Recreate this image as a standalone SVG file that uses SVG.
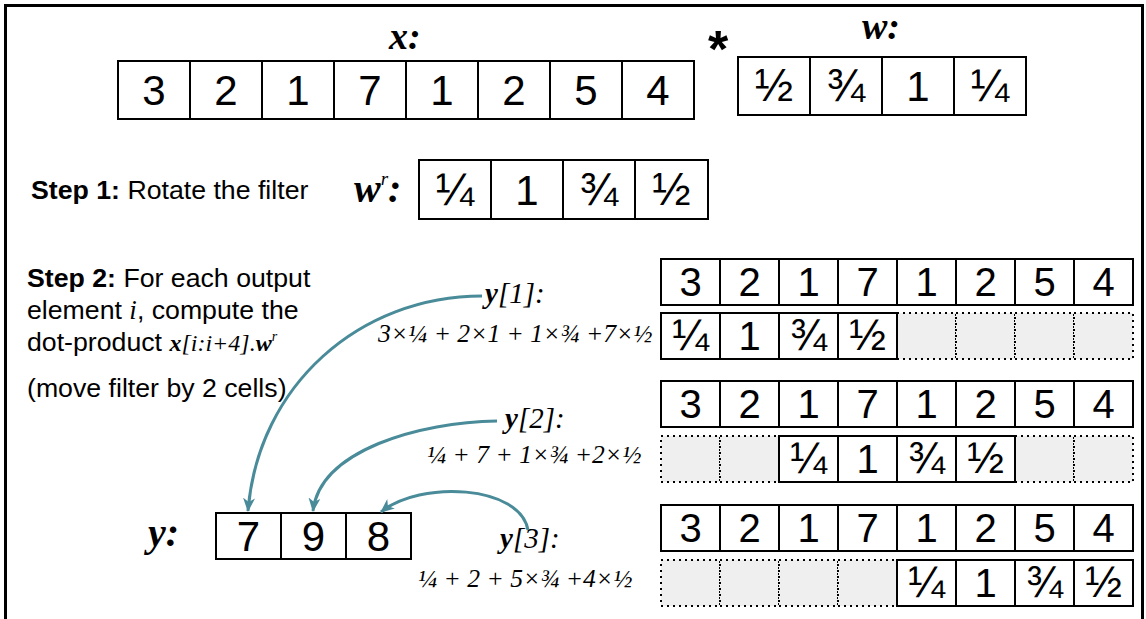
<svg xmlns="http://www.w3.org/2000/svg" width="1146" height="619" viewBox="0 0 1146 619">
<style>
.cell{fill:#fff;stroke:#000;stroke-width:2}
.dot{fill:#efefef;stroke:#000;stroke-width:2;stroke-dasharray:2 4}
.num{font-family:"Liberation Sans",Arial,sans-serif;font-size:40px;text-anchor:middle;fill:#000}
.big{font-family:"Liberation Sans",Arial,sans-serif;font-size:42px;text-anchor:middle;fill:#000}
.frac{font-family:"Liberation Sans",Arial,sans-serif;font-size:44px;text-anchor:middle;fill:#000}
.fracb{font-family:"Liberation Sans",Arial,sans-serif;font-size:46px;text-anchor:middle;fill:#000}
.lbl{font-family:"Liberation Serif","Times New Roman",serif;font-style:italic;font-weight:bold;fill:#000}
.it{font-family:"Liberation Serif","Times New Roman",serif;font-style:italic;font-weight:normal}
.form{font-family:"Liberation Serif","Times New Roman",serif;font-style:italic;font-size:25.6px;fill:#000}
.txt{font-family:"Liberation Sans",Arial,sans-serif;font-size:26.7px;fill:#000}
.arr{fill:none;stroke:#4a8b9a;stroke-width:3;marker-end:url(#ah)}
</style>
<defs>
<marker id="ah" viewBox="0 0 14 12" refX="13" refY="6" markerWidth="14" markerHeight="12" markerUnits="userSpaceOnUse" orient="auto">
<path d="M0,0 L14,6 L0,12 L4,6 z" fill="#4a8b9a"/>
</marker>
</defs>
<rect x="0" y="0" width="1146" height="619" fill="#fff"/>
<rect x="5.5" y="5.5" width="1137" height="700" fill="none" stroke="#000" stroke-width="3"/>

<g id="x-array">
<text class="lbl" x="389" y="49" font-size="38">x:</text>
<rect class="cell" x="118" y="61" width="72" height="58"/><text class="big" x="154" y="105">3</text>
<rect class="cell" x="190" y="61" width="72" height="58"/><text class="big" x="226" y="105">2</text>
<rect class="cell" x="262" y="61" width="72" height="58"/><text class="big" x="298" y="105">1</text>
<rect class="cell" x="334" y="61" width="72" height="58"/><text class="big" x="370" y="105">7</text>
<rect class="cell" x="406" y="61" width="72" height="58"/><text class="big" x="442" y="105">1</text>
<rect class="cell" x="478" y="61" width="72" height="58"/><text class="big" x="514" y="105">2</text>
<rect class="cell" x="550" y="61" width="72" height="58"/><text class="big" x="586" y="105">5</text>
<rect class="cell" x="622" y="61" width="72" height="58"/><text class="big" x="658" y="105">4</text>
</g>

<g id="star">
<text x="718" y="67" font-family="Liberation Sans,Arial,sans-serif" font-size="52" font-weight="bold" text-anchor="middle">*</text>
</g>

<g id="w-array">
<text class="lbl" x="862" y="39" font-size="38">w:</text>
<rect class="cell" x="738" y="57" width="72" height="58"/><text class="fracb" x="774" y="101">½</text>
<rect class="cell" x="810" y="57" width="72" height="58"/><text class="fracb" x="846" y="101">¾</text>
<rect class="cell" x="882" y="57" width="72" height="58"/><text class="big" x="918" y="101">1</text>
<rect class="cell" x="954" y="57" width="72" height="58"/><text class="fracb" x="990" y="101">¼</text>
</g>

<g id="step1">
<text class="txt" x="31" y="199"><tspan font-weight="bold">Step 1:</tspan> Rotate the filter</text>
</g>

<g id="wr-array">
<text class="lbl" x="354" y="202" font-size="40">w<tspan class="it" font-size="19" dy="-17">r</tspan><tspan dy="17">:</tspan></text>
<rect class="cell" x="419" y="160" width="72" height="59"/><text class="fracb" x="455" y="204.5">¼</text>
<rect class="cell" x="491" y="160" width="72" height="59"/><text class="big" x="527" y="204.5">1</text>
<rect class="cell" x="563" y="160" width="72" height="59"/><text class="fracb" x="599" y="204.5">¾</text>
<rect class="cell" x="635" y="160" width="73" height="59"/><text class="fracb" x="671.5" y="204.5">½</text>
</g>

<g id="step2">
<text class="txt" x="27" y="287"><tspan font-weight="bold">Step 2:</tspan> For each output</text>
<text class="txt" x="27" y="319">element <tspan class="it" font-size="27">i</tspan>, compute the</text>
<text class="txt" x="27" y="351">dot-product <tspan class="lbl" font-size="24">x</tspan><tspan class="it" font-size="24">[i:i+4].</tspan><tspan class="lbl" font-size="24">w</tspan><tspan class="it" font-size="14" dy="-10">r</tspan></text>
<text class="txt" x="27" y="397">(move filter by 2 cells)</text>
</g>

<g id="grid1">
<rect class="cell" x="661" y="259" width="59" height="46"/><text class="num" x="690.5" y="296.3">3</text>
<rect class="cell" x="720" y="259" width="59" height="46"/><text class="num" x="749.5" y="296.3">2</text>
<rect class="cell" x="779" y="259" width="59" height="46"/><text class="num" x="808.5" y="296.3">1</text>
<rect class="cell" x="838" y="259" width="59" height="46"/><text class="num" x="867.5" y="296.3">7</text>
<rect class="cell" x="897" y="259" width="59" height="46"/><text class="num" x="926.5" y="296.3">1</text>
<rect class="cell" x="956" y="259" width="59" height="46"/><text class="num" x="985.5" y="296.3">2</text>
<rect class="cell" x="1015" y="259" width="59" height="46"/><text class="num" x="1044.5" y="296.3">5</text>
<rect class="cell" x="1074" y="259" width="59" height="46"/><text class="num" x="1103.5" y="296.3">4</text>
<rect class="dot" x="897" y="313" width="59" height="46"/>
<rect class="dot" x="956" y="313" width="59" height="46"/>
<rect class="dot" x="1015" y="313" width="59" height="46"/>
<rect class="dot" x="1074" y="313" width="59" height="46"/>
<rect class="cell" x="661" y="313" width="59" height="46"/><text class="frac" x="690.5" y="350">¼</text>
<rect class="cell" x="720" y="313" width="59" height="46"/><text class="num" x="749.5" y="350.3">1</text>
<rect class="cell" x="779" y="313" width="59" height="46"/><text class="frac" x="808.5" y="350">¾</text>
<rect class="cell" x="838" y="313" width="59" height="46"/><text class="frac" x="867.5" y="350">½</text>
</g>

<g id="grid2">
<rect class="cell" x="661" y="381" width="59" height="46"/><text class="num" x="690.5" y="418.3">3</text>
<rect class="cell" x="720" y="381" width="59" height="46"/><text class="num" x="749.5" y="418.3">2</text>
<rect class="cell" x="779" y="381" width="59" height="46"/><text class="num" x="808.5" y="418.3">1</text>
<rect class="cell" x="838" y="381" width="59" height="46"/><text class="num" x="867.5" y="418.3">7</text>
<rect class="cell" x="897" y="381" width="59" height="46"/><text class="num" x="926.5" y="418.3">1</text>
<rect class="cell" x="956" y="381" width="59" height="46"/><text class="num" x="985.5" y="418.3">2</text>
<rect class="cell" x="1015" y="381" width="59" height="46"/><text class="num" x="1044.5" y="418.3">5</text>
<rect class="cell" x="1074" y="381" width="59" height="46"/><text class="num" x="1103.5" y="418.3">4</text>
<rect class="dot" x="661" y="436" width="59" height="46"/>
<rect class="dot" x="720" y="436" width="59" height="46"/>
<rect class="dot" x="1015" y="436" width="59" height="46"/>
<rect class="dot" x="1074" y="436" width="59" height="46"/>
<rect class="cell" x="779" y="436" width="59" height="46"/><text class="frac" x="808.5" y="473">¼</text>
<rect class="cell" x="838" y="436" width="59" height="46"/><text class="num" x="867.5" y="473.3">1</text>
<rect class="cell" x="897" y="436" width="59" height="46"/><text class="frac" x="926.5" y="473">¾</text>
<rect class="cell" x="956" y="436" width="59" height="46"/><text class="frac" x="985.5" y="473">½</text>
</g>

<g id="grid3">
<rect class="cell" x="661" y="505" width="59" height="46"/><text class="num" x="690.5" y="542.3">3</text>
<rect class="cell" x="720" y="505" width="59" height="46"/><text class="num" x="749.5" y="542.3">2</text>
<rect class="cell" x="779" y="505" width="59" height="46"/><text class="num" x="808.5" y="542.3">1</text>
<rect class="cell" x="838" y="505" width="59" height="46"/><text class="num" x="867.5" y="542.3">7</text>
<rect class="cell" x="897" y="505" width="59" height="46"/><text class="num" x="926.5" y="542.3">1</text>
<rect class="cell" x="956" y="505" width="59" height="46"/><text class="num" x="985.5" y="542.3">2</text>
<rect class="cell" x="1015" y="505" width="59" height="46"/><text class="num" x="1044.5" y="542.3">5</text>
<rect class="cell" x="1074" y="505" width="59" height="46"/><text class="num" x="1103.5" y="542.3">4</text>
<rect class="dot" x="661" y="560" width="59" height="46"/>
<rect class="dot" x="720" y="560" width="59" height="46"/>
<rect class="dot" x="779" y="560" width="59" height="46"/>
<rect class="dot" x="838" y="560" width="59" height="46"/>
<rect class="cell" x="897" y="560" width="59" height="46"/><text class="frac" x="926.5" y="597">¼</text>
<rect class="cell" x="956" y="560" width="59" height="46"/><text class="num" x="985.5" y="597.3">1</text>
<rect class="cell" x="1015" y="560" width="59" height="46"/><text class="frac" x="1044.5" y="597">¾</text>
<rect class="cell" x="1074" y="560" width="59" height="46"/><text class="frac" x="1103.5" y="597">½</text>
</g>

<g id="y1-label">
<text class="lbl" x="485" y="303" font-size="29">y<tspan class="it">[1]:</tspan></text>
<text class="form" x="378" y="342">3×¼ + 2×1 + 1×¾ +7×½</text>
</g>
<g id="y2-label">
<text class="lbl" x="505" y="428" font-size="29">y<tspan class="it">[2]:</tspan></text>
<text class="form" x="427" y="463">¼ + 7 + 1×¾ +2×½</text>
</g>
<g id="y3-label">
<text class="lbl" x="500" y="548" font-size="29">y<tspan class="it">[3]:</tspan></text>
<text class="form" x="418" y="587">¼ + 2 + 5×¾ +4×½</text>
</g>

<g id="y-array">
<text class="lbl" x="148" y="546" font-size="40">y:</text>
<rect class="cell" x="216" y="513" width="65" height="46"/><text class="big" x="248.5" y="551">7</text>
<rect class="cell" x="281" y="513" width="65" height="46"/><text class="big" x="313.5" y="551">9</text>
<rect class="cell" x="346" y="513" width="65" height="46"/><text class="big" x="378.5" y="551">8</text>
</g>

<g id="connectors">
<path class="arr" d="M482,296 C360,296 258,385 248,511"/>
<path class="arr" d="M497,421 C420,422 320,450 313,511"/>
<path class="arr" d="M528,530 C520,485 420,480 381,512"/>
</g>
</svg>
